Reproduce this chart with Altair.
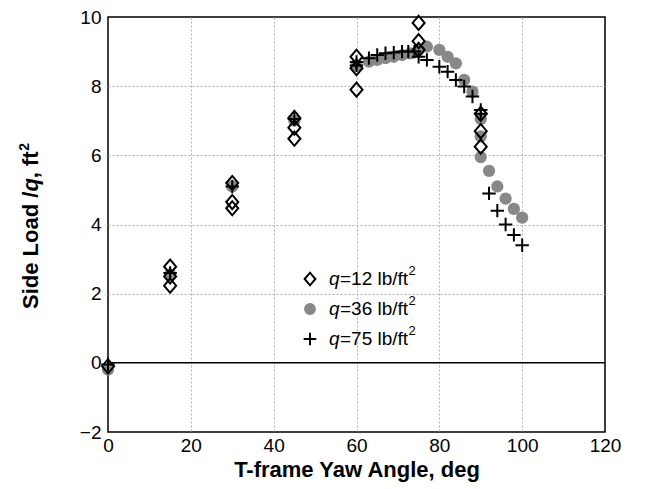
import altair as alt
import pandas as pd

# q = 12 lb/ft^2 (open diamonds)
x_q12 = [0, 15, 15, 15, 30, 30, 30, 45, 45, 45, 60, 60, 60, 75, 75, 75, 90, 90, 90]
y_q12 = [-0.1, 2.78, 2.5, 2.23, 5.2, 4.65, 4.47, 7.08, 6.8, 6.48, 8.85, 8.52, 7.9,
         9.83, 9.3, 9.05, 7.2, 6.7, 6.25]

# q = 36 lb/ft^2 (gray filled circles)
x_q36 = [0, 15, 30, 45, 60, 63, 65, 67, 69, 71, 73, 75, 77, 80, 82, 84, 86, 88,
         90, 90, 90, 92, 94, 96, 98, 100]
y_q36 = [-0.2, 2.55, 5.1, 7.0, 8.6, 8.71, 8.76, 8.81, 8.85, 8.9, 8.95, 9.05, 9.14,
         9.05, 8.85, 8.66, 8.18, 7.84, 7.05, 6.55, 5.95, 5.55, 5.1, 4.75, 4.45, 4.2]

# q = 75 lb/ft^2 (plus signs)
x_q75 = [0, 15, 30, 45, 60, 60, 63, 65, 67, 69, 71, 72.5, 74, 75, 77, 80, 82, 84,
         86, 88, 90, 90, 92, 94, 96, 98, 100]
y_q75 = [-0.05, 2.6, 5.1, 7.05, 8.6, 8.7, 8.81, 8.9, 8.95, 8.97, 9.0, 9.0, 9.0,
         8.85, 8.76, 8.56, 8.42, 8.18, 7.99, 7.7, 7.31, 7.2, 4.9, 4.4, 4.0, 3.7, 3.4]

x_ticks = [0, 20, 40, 60, 80, 100, 120]
y_ticks = [-2, 0, 2, 4, 6, 8, 10]
legend_rest = ["=12 lb/ft", "=36 lb/ft", "=75 lb/ft"]
y_title_parts = ["Side Load /", "q", ", ft"]
sup = "2"
x_title = "T-frame Yaw Angle, deg"

FONT = "Liberation Sans"
W, H = 497, 415
DIAMOND = "M-0.85,0L0,-1L0.85,0L0,1Z"
PLUS = "M-1,0L1,0M0,-1L0,1"
GRAY = "#888888"

df12 = pd.DataFrame({"x": x_q12, "y": y_q12})
df36 = pd.DataFrame({"x": x_q36, "y": y_q36})
df75 = pd.DataFrame({"x": x_q75, "y": y_q75})

xs = alt.Scale(domain=[0, 120], nice=False, zero=False)
ys = alt.Scale(domain=[-2, 10], nice=False, zero=False)

grid_col_x = alt.condition("datum.value == 0 || datum.value == 120",
                           alt.value("transparent"), alt.value("#b0b0b0"))
grid_col_y = alt.condition("datum.value == -2 || datum.value == 10 || datum.value == 0",
                           alt.value("transparent"), alt.value("#b0b0b0"))

x_enc = alt.X("x:Q", scale=xs, axis=alt.Axis(
    values=x_ticks, title=x_title, ticks=False, domain=False,
    labelFont=FONT, labelFontSize=19, labelColor="black", labelPadding=4,
    labelFlush=False, labelOverlap=False,
    titleFont=FONT, titleFontSize=22, titleFontWeight="bold", titleColor="black",
    titlePadding=4, grid=True, gridColor=grid_col_x, gridDash=[2, 2], gridWidth=1))
y_enc = alt.Y("y:Q", scale=ys, axis=alt.Axis(
    values=y_ticks, title=None, ticks=False, domain=False,
    labelFont=FONT, labelFontSize=19, labelColor="black", labelPadding=7,
    labelFlush=False, labelOverlap=False,
    grid=True, gridColor=grid_col_y, gridDash=[2, 2], gridWidth=1))

circles = alt.Chart(df36).mark_point(
    shape="circle", filled=True, color=GRAY, size=150, opacity=1
).encode(x=x_enc, y=y_enc)

zero_line = alt.Chart(pd.DataFrame({"z": [0]})).mark_rule(
    color="black", strokeWidth=1.5
).encode(y=alt.Y("z:Q", scale=ys))

diamonds = alt.Chart(df12).mark_point(
    shape=DIAMOND, filled=False, stroke="black", strokeWidth=2, size=200, opacity=1
).encode(x=alt.X("x:Q", scale=xs), y=alt.Y("y:Q", scale=ys))

crosses = alt.Chart(df75).mark_point(
    shape=PLUS, filled=False, stroke="black", strokeWidth=2, size=180, opacity=1
).encode(x=alt.X("x:Q", scale=xs), y=alt.Y("y:Q", scale=ys))

layers = [circles, zero_line, diamonds, crosses]

# y-axis title in pieces (italic q, superscript 2)
title_y = [292, 174.6, 161.2]
for part, py in zip(y_title_parts, title_y):
    layers.append(
        alt.Chart(pd.DataFrame({"t": [part]})).mark_text(
            angle=270, align="left", baseline="alphabetic", font=FONT,
            fontSize=22, fontWeight="bold", color="black",
            fontStyle="italic" if part == "q" else "normal"
        ).encode(text="t:N", x=alt.value(-70), y=alt.value(py))
    )
layers.append(
    alt.Chart(pd.DataFrame({"t": [sup]})).mark_text(
        angle=270, align="left", baseline="alphabetic", font=FONT,
        fontSize=14, fontWeight="bold", color="black"
    ).encode(text="t:N", x=alt.value(-79), y=alt.value(133.8))
)

# manual legend
leg_sym = [
    dict(shape=DIAMOND, filled=False, stroke="black", strokeWidth=2, size=160),
    dict(shape="circle", filled=True, color=GRAY, size=140),
    dict(shape=PLUS, filled=False, stroke="black", strokeWidth=2, size=160),
]
leg_y = [262, 292, 322]
for sym, rest, ly in zip(leg_sym, legend_rest, leg_y):
    layers.append(
        alt.Chart(pd.DataFrame({"a": [0]})).mark_point(opacity=1, **sym)
        .encode(x=alt.value(202), y=alt.value(ly))
    )
    layers.append(
        alt.Chart(pd.DataFrame({"t": ["q"]})).mark_text(
            align="left", baseline="middle", font=FONT, fontSize=19,
            fontStyle="italic", color="black"
        ).encode(text="t:N", x=alt.value(221), y=alt.value(ly))
    )
    layers.append(
        alt.Chart(pd.DataFrame({"t": [rest]})).mark_text(
            align="left", baseline="middle", font=FONT, fontSize=19, color="black"
        ).encode(text="t:N", x=alt.value(232), y=alt.value(ly))
    )
    layers.append(
        alt.Chart(pd.DataFrame({"t": [sup]})).mark_text(
            align="left", baseline="middle", font=FONT, fontSize=13, color="black"
        ).encode(text="t:N", x=alt.value(300.6), y=alt.value(ly - 8))
    )

chart = alt.layer(*layers).properties(
    width=W, height=H,
    autosize=alt.AutoSizeParams(type="none"),
    padding={"left": 108, "top": 17, "right": 40, "bottom": 57},
    background="white",
).configure_view(stroke="black", strokeWidth=1.5)

chart.save("out.html", embed_options={"renderer": "svg", "actions": False})
